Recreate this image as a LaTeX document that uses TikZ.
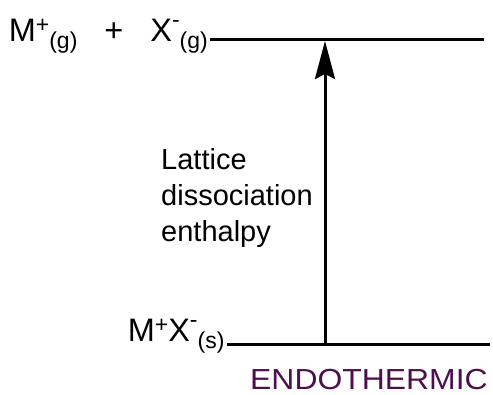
\documentclass[tikz,border=0pt]{standalone}
\usepackage{fontspec}
\setmainfont{Liberation Sans}
\usetikzlibrary{arrows.meta}
\definecolor{Ink}{HTML}{000000}
\definecolor{Plum}{HTML}{4F0F4F}
\newcommand{\upx}[2][9.5pt]{\raisebox{#1}{\fontsize{23}{23}\selectfont #2}}
\newcommand{\dnx}[1]{\raisebox{-7pt}{\fontsize{23}{23}\selectfont #1}}

\begin{document}
\begin{tikzpicture}[x=1pt,y=-1pt,
  level/.style={Ink,line width=3pt},
  chem/.style={font=\fontsize{32.5}{32.5}\selectfont,inner sep=0pt,anchor=base west}]
\useasboundingbox (0,0) rectangle (493,395);
% Species on the two levels.
\node[chem] (gas) at (8.6,42)
  {M\upx{+}\dnx{(g)}\hspace{27pt}+\hspace{27pt}X\upx[14pt]{-}\dnx{(g)}};
\node[chem] (solid) at (127.6,342) {M\upx{+}X\upx[14pt]{-}\dnx{(s)}};

% Energy levels.
\coordinate (gasL) at (210,40);
\coordinate (gasR) at (484,40);
\coordinate (solL) at (227,345);
\coordinate (solR) at (490,345);
\draw[level] (gasL)--(gasR);
\draw[level] (solL)--(solR);

% Dissociation arrow.
\coordinate (arrLow) at (325,345);
\coordinate (arrTop) at (325,41);
\draw[level,-{Stealth[length=38pt,width=20pt,inset=5pt]}] (arrLow)--(arrTop);
\node[font=\fontsize{29}{36}\selectfont,align=left,anchor=west,inner sep=0pt]
  (ldh) at (161,198) {Lattice\\dissociation\\enthalpy};

\node[font=\fontsize{29}{29}\selectfont\addfontfeature{FakeStretch=1.1},
  text=Plum,anchor=base west,inner sep=0pt]
  (endo) at (250,390) {ENDOTHERMIC};
\end{tikzpicture}
\end{document}
